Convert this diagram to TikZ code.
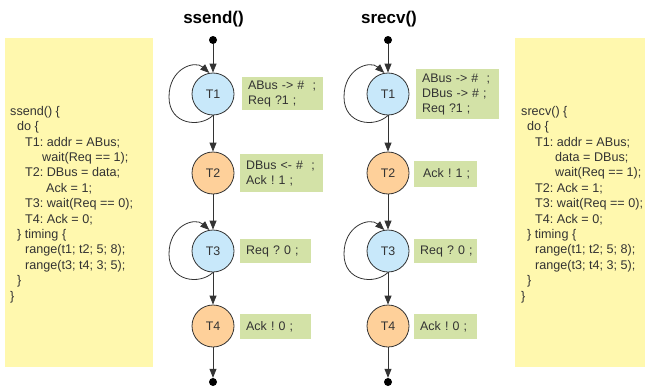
\documentclass[tikz,border=0pt]{standalone}
\usepackage{fontspec}
\setmainfont{Liberation Sans}
\usetikzlibrary{arrows.meta,calc}
\definecolor{codeyellow}{HTML}{FFF8AE}
\definecolor{lblgreen}{HTML}{D3E2A7}
\definecolor{stblue}{HTML}{C8E8FA}
\definecolor{storange}{HTML}{FED09A}
\definecolor{ink}{HTML}{333333}
\frenchspacing
\begin{document}
\begin{tikzpicture}[x=1pt,y=-1pt,
  every node/.style={text=ink},
  stnode/.style={circle, draw=ink, line width=0.8pt, minimum size=42pt, inner sep=0pt, font=\fontsize{12.4}{14}\selectfont},
  bluest/.style={stnode, fill=stblue},
  orangest/.style={stnode, fill=storange},
  dotnode/.style={circle, fill=black, minimum size=8pt, inner sep=0pt},
  lbl/.style={fill=lblgreen, inner xsep=6pt, inner ysep=0pt, align=left, anchor=north west, font=\fontsize{12.4}{15}\selectfont\frenchspacing},
  arr/.style={draw=ink, line width=0.8pt, -{Triangle[length=9pt,width=7pt]}},
  titletext/.style={font=\fontsize{17}{20}\bfseries\selectfont, text=black},
  codebox/.style={fill=codeyellow, anchor=north west, inner sep=0pt},
  code/.style={font=\fontsize{12.6}{15.4}\selectfont\frenchspacing, align=left, anchor=north west, inner sep=0pt}
]
\useasboundingbox (0,0) rectangle (645,388);

% code boxes
\node[codebox, minimum width=148pt, minimum height=329pt] (LB) at (5,38) {};
\node[codebox, minimum width=130pt, minimum height=329pt] (RB) at (515,38) {};

\node[code] (LC) at (10,106) {ssend() \{\\
\hspace*{7pt}do \{\\
\hspace*{15pt}T1: addr = ABus;\\
\hspace*{32pt}wait(Req == 1);\\
\hspace*{15pt}T2: DBus = data;\\
\hspace*{36pt}Ack = 1;\\
\hspace*{15pt}T3: wait(Req == 0);\\
\hspace*{15pt}T4: Ack = 0;\\
\hspace*{7pt}\} timing \{\\
\hspace*{15pt}range(t1; t2; 5; 8);\\
\hspace*{15pt}range(t3; t4; 3; 5);\\
\hspace*{7pt}\}\\
\}};

\node[code] (RC) at (521,106) {srecv() \{\\
\hspace*{6pt}do \{\\
\hspace*{14pt}T1: addr = ABus;\\
\hspace*{34pt}data = DBus;\\
\hspace*{34pt}wait(Req == 1);\\
\hspace*{14pt}T2: Ack = 1;\\
\hspace*{14pt}T3: wait(Req == 0);\\
\hspace*{14pt}T4: Ack = 0;\\
\hspace*{6pt}\} timing \{\\
\hspace*{14pt}range(t1; t2; 5; 8);\\
\hspace*{14pt}range(t3; t4; 3; 5);\\
\hspace*{6pt}\}\\
\}};

% titles
\node[titletext] (TL) at (213.5,19) {ssend()};
\node[titletext] (TR) at (389,19) {srecv()};

% left machine
\node[dotnode] (A0) at (213,40) {};
\node[bluest] (A1) at (213,94) {T1};
\node[orangest] (A2) at (213,173) {T2};
\node[bluest] (A3) at (213,251) {T3};
\node[orangest] (A4) at (213,326) {T4};
\node[dotnode] (A5) at (213,382) {};

% right machine
\node[dotnode] (B0) at (388,40) {};
\node[bluest] (B1) at (388,94) {T1};
\node[orangest] (B2) at (388,173) {T2};
\node[bluest] (B3) at (388,251) {T3};
\node[orangest] (B4) at (388,326) {T4};
\node[dotnode] (B5) at (388,382) {};

% labels
\node[lbl, minimum height=33pt, text width=69pt] (LA1) at (242,77) {\mbox{ABus -> \#\ \ ;}\\\mbox{Req ?1 ;}};
\node[lbl, minimum height=38pt, text width=71pt] (LA2) at (240,154) {\mbox{DBus <- \#\ \ ;}\\\mbox{Ack ! 1 ;}};
\node[lbl, minimum height=24pt, text width=59pt] (LA3) at (240,239) {\mbox{Req ? 0 ;}};
\node[lbl, minimum height=25pt, text width=59pt] (LA4) at (240,314) {\mbox{Ack ! 0 ;}};

\node[lbl, minimum height=50pt, text width=71pt] (LB1) at (416,69) {\mbox{ABus -> \#\ \ ;}\\\mbox{DBus -> \# ;}\\\mbox{Req ?1 ;}};
\node[lbl, minimum height=26pt, text width=51pt] (LB2) at (414,161) {\mbox{\hspace*{3pt}Ack ! 1 ;}};
\node[lbl, minimum height=24pt, text width=51pt] (LB3) at (414,239) {\mbox{Req ? 0 ;}};
\node[lbl, minimum height=25pt, text width=51pt] (LB4) at (414,314) {\mbox{Ack ! 0 ;}};

% arrows
\foreach \m in {A,B}{
  \draw[arr] (\m0) -- (\m1);
  \draw[arr] (\m1) -- (\m2);
  \draw[arr] (\m2) -- (\m3);
  \draw[arr] (\m3) -- (\m4);
  \draw[arr] (\m4) -- (\m5);
}
% self loops
\foreach \s in {A1,A3,B1,B3}{
  \draw[arr] (\s.south) .. controls ($(\s.center)+(-13,34)$) and ($(\s.center)+(-44,31)$) .. ($(\s.center)+(-44,3)$)
     .. controls ($(\s.center)+(-44,-26)$) and ($(\s.center)+(-18,-34)$) .. (\s.100);
}
\end{tikzpicture}
\end{document}
